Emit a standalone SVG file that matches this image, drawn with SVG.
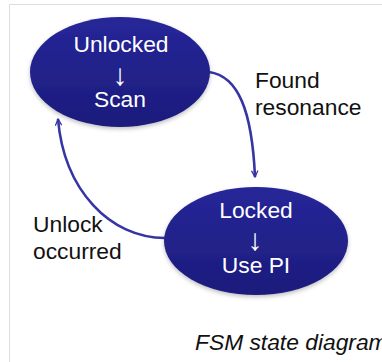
<svg xmlns="http://www.w3.org/2000/svg" width="382" height="362" viewBox="0 0 382 362">
<style>
.node-text{font-family:"Liberation Sans",Arial,sans-serif;font-size:22.8px;fill:#ffffff;text-anchor:middle}
.arrow-text{font-family:"Liberation Sans",Arial,sans-serif;font-size:30px;fill:#ffffff;text-anchor:middle}
.label{font-family:"Liberation Sans",Arial,sans-serif;font-size:22.8px;fill:#111111}
.edge{fill:none;stroke:#3535a4;stroke-width:2.6}
</style>
<defs>
<linearGradient id="g" x1="0" y1="0" x2="0" y2="1">
<stop offset="0" stop-color="#262699"/>
<stop offset="1" stop-color="#1c1c7c"/>
</linearGradient>
<marker id="arr" viewBox="0 0 10 10" refX="9" refY="5" markerWidth="8" markerHeight="8" markerUnits="userSpaceOnUse" orient="auto">
<path d="M1 1 L9 5 L1 9" fill="none" stroke="#3535a4" stroke-width="1.6"/>
</marker>
<filter id="sh" x="-10%" y="-10%" width="120%" height="130%">
<feDropShadow dx="0" dy="2" stdDeviation="2" flood-color="#000" flood-opacity="0.25"/>
</filter>
</defs>
<rect x="0" y="0" width="382" height="362" fill="#ffffff"/>
<path d="M9.5 362 V4.5 H382" fill="none" stroke="#dddddd" stroke-width="1"/>
<g id="connectors">
<path class="edge" d="M209 72 C238 76 252 110 255 177" marker-end="url(#arr)"/>
<path class="edge" d="M165 238 C110 238 64 190 58 119" marker-end="url(#arr)"/>
</g>
<g id="unlocked">
<ellipse cx="120" cy="72" rx="90" ry="55" fill="url(#g)" filter="url(#sh)"/>
<text class="node-text" x="121" y="52">Unlocked</text>
<text class="arrow-text" x="120" y="85">↓</text>
<text class="node-text" x="120" y="107">Scan</text>
</g>
<g id="locked">
<ellipse cx="256" cy="241" rx="92" ry="54" fill="url(#g)" filter="url(#sh)"/>
<text class="node-text" x="256" y="218">Locked</text>
<text class="arrow-text" x="255" y="250">↓</text>
<text class="node-text" x="256" y="273">Use PI</text>
</g>
<g id="labels">
<text class="label" x="255" y="88">Found</text>
<text class="label" x="255" y="115">resonance</text>
<text class="label" x="33" y="232">Unlock</text>
<text class="label" x="33" y="259">occurred</text>
<text class="label" x="195" y="350" font-style="italic">FSM state diagram</text>
</g>
</svg>
